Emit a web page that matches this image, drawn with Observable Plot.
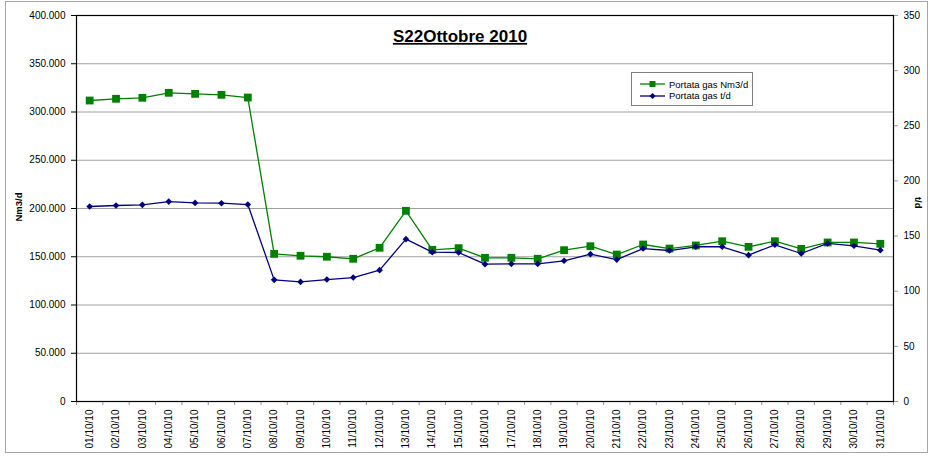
<!DOCTYPE html>
<html>
<head>
<meta charset="utf-8">
<script src="https://cdn.jsdelivr.net/npm/d3@7"></script>
<script src="https://cdn.jsdelivr.net/npm/@observablehq/plot@0.6"></script>
<style>
  body { margin: 0; background: #fff; font-family: "Liberation Sans", Arial, sans-serif; }
  #wrap { position: relative; width: 930px; height: 461px; overflow: hidden; }
  #border { position: absolute; left: 5px; top: 1px; width: 923px; height: 452px; border: 1px solid #a6a6a6; box-sizing: border-box; pointer-events: none; }
  #legend { position: absolute; left: 631px; top: 72px; width: 122px; height: 34px; border: 1px solid #808080; box-sizing: border-box; background: #fff; }
  .row { position: absolute; left: 8px; height: 10px; display: flex; align-items: center; font-size: 9.5px; color: #000; white-space: nowrap; }
  .row svg { margin-right: 3px; }
</style>
</head>
<body>
<div id="wrap">
  <div id="chart"></div>
  <div id="border"></div>
  <div id="legend"></div>
</div>
<script>
const dates = ["01/10/10","02/10/10","03/10/10","04/10/10","05/10/10","06/10/10","07/10/10","08/10/10","09/10/10","10/10/10","11/10/10","12/10/10","13/10/10","14/10/10","15/10/10","16/10/10","17/10/10","18/10/10","19/10/10","20/10/10","21/10/10","22/10/10","23/10/10","24/10/10","25/10/10","26/10/10","27/10/10","28/10/10","29/10/10","30/10/10","31/10/10"];
const nm3 = [311900,313700,314700,319900,318800,317800,315000,153000,151000,150000,147900,159300,197600,157200,158900,148900,148900,147900,156800,160900,152300,162700,158500,161700,166100,160300,166100,158200,164800,164800,163400];
const td = [176.8,177.7,178.3,181.3,180.1,179.8,178.6,110.3,108.5,110.6,112.4,119.1,147.2,135.4,135.1,124.5,124.8,124.8,127.6,133.6,128.7,138.7,136.9,140.3,140.3,132.7,142.1,134.2,143.3,141.2,137.2];
const leftTicks = [0,50000,100000,150000,200000,250000,300000,350000,400000];
const rightTicks = [0,50,100,150,200,250,300,350];
const title = "S22Ottobre 2010";
const leftLabel = "Nm3/d";
const rightLabel = "t/d";
const seriesNames = ["Portata gas Nm3/d","Portata gas t/d"];
const colors = ["#008000","#000080"];

const leftMax = leftTicks[leftTicks.length - 1];
const rightMax = rightTicks[rightTicks.length - 1];
const k = leftMax / rightMax;
const rows = dates.map((d, i) => ({pos: i + 0.5, date: d, nm3: nm3[i], td: td[i], tdScaled: td[i] * k}));
const fmtLeft = d => d === 0 ? "0" : d3.format(",")(d).replace(/,/g, ".");

const chart = Plot.plot({
  width: 930,
  height: 461,
  marginLeft: 76,
  marginRight: 37,
  marginTop: 15,
  marginBottom: 60,
  style: {fontFamily: "'Liberation Sans', Arial, sans-serif", fontSize: "10px", background: "transparent", color: "#000"},
  x: {type: "linear", domain: [0, dates.length]},
  y: {domain: [0, leftMax]},
  marks: [
    Plot.gridY(leftTicks.slice(1, -1), {stroke: "#a0a0a0", strokeOpacity: 1}),
    Plot.axisY(leftTicks, {anchor: "left", tickFormat: fmtLeft, tickSize: 5, tickPadding: 6, label: null}),
    Plot.axisY(rightTicks.map(v => v * k), {anchor: "right", tickFormat: d => String(Math.round(d / k)), tickSize: 4, tickPadding: 6, stroke: "#999", label: null}),
    Plot.axisX(d3.range(0, dates.length + 1), {tickSize: 4, tickFormat: () => "", stroke: "#999", label: null}),
    Plot.axisX(rows.map(r => r.pos), {tickSize: 0, tickPadding: 8, tickRotate: -90, tickFormat: d => dates[Math.floor(d)], label: null}),
    Plot.frame({stroke: "#000", strokeWidth: 1.2}),
    Plot.line(rows, {x: "pos", y: "nm3", stroke: colors[0], strokeWidth: 1.3}),
    Plot.dot(rows, {x: "pos", y: "nm3", symbol: "square", r: 4.4, fill: colors[0], stroke: "none"}),
    Plot.line(rows, {x: "pos", y: "tdScaled", stroke: colors[1], strokeWidth: 1.3}),
    Plot.dot(rows, {x: "pos", y: "tdScaled", symbol: "diamond2", r: 3, fill: colors[1], stroke: "none"}),
    Plot.text([title], {frameAnchor: "top", dx: -25, dy: 21, fontSize: 17, fontWeight: "bold", lineAnchor: "middle", fill: "#000"}),
    Plot.text([leftLabel], {frameAnchor: "left", dx: -58, dy: 13, rotate: -90, fontSize: 9.5, fontWeight: "bold", fill: "#000"}),
    Plot.text([rightLabel], {frameAnchor: "right", dx: 25, dy: 0, rotate: 90, fontSize: 9.5, fontWeight: "bold", fill: "#000"})
  ]
});
d3.select(chart).selectAll("text").filter(function() { return this.textContent === title; })
  .style("text-decoration", "underline");
document.getElementById("chart").appendChild(chart);

// legend
const legend = d3.select("#legend");
seriesNames.forEach((name, i) => {
  const row = legend.append("div").attr("class", "row").style("top", (6 + i * 11.7) + "px");
  const s = row.append("svg").attr("width", 26).attr("height", 10);
  s.append("line").attr("x1", 0).attr("x2", 25).attr("y1", 5).attr("y2", 5).attr("stroke", colors[i]).attr("stroke-width", 1.3);
  if (i === 0) s.append("rect").attr("x", 9.5).attr("y", 2).attr("width", 6).attr("height", 6).attr("fill", colors[i]);
  else s.append("path").attr("d", "M12.5,2 L15.5,5 L12.5,8 L9.5,5 Z").attr("fill", colors[i]);
  row.append("span").text(name);
});
</script>
</body>
</html>
